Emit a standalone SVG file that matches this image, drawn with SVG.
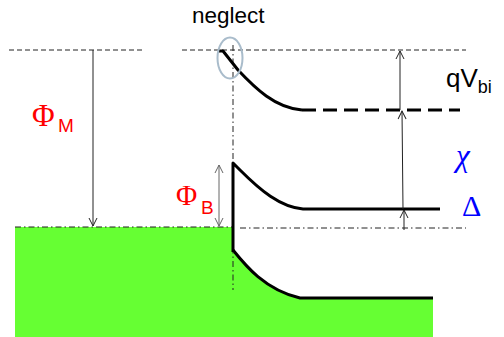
<svg xmlns="http://www.w3.org/2000/svg" width="504" height="337" viewBox="0 0 504 337">
<style>
.thin{fill:none;stroke:#222;stroke-width:1}
.dash{fill:none;stroke:#222;stroke-width:1;stroke-dasharray:5,3}
.dashdot{fill:none;stroke:#222;stroke-width:1;stroke-dasharray:6,3,1.5,3}
.band{fill:none;stroke:#000;stroke-width:3;stroke-linejoin:round}
.arr{fill:none;stroke:#222;stroke-width:1}
.green{fill:#66ff33;stroke:none}
.sans{font-family:"Liberation Sans",Arial,sans-serif}
.serif{font-family:"Liberation Serif","Times New Roman",serif}
</style>
<defs>
<marker id="ah" markerUnits="userSpaceOnUse" markerWidth="12" markerHeight="12" refX="9" refY="5" orient="auto">
<path d="M1,1 L9,5 L1,9" fill="none" stroke="#222" stroke-width="1"/>
</marker>
<marker id="ahg" markerUnits="userSpaceOnUse" markerWidth="12" markerHeight="12" refX="9" refY="5" orient="auto-start-reverse">
<path d="M1,1 L9,5 L1,9" fill="none" stroke="#666" stroke-width="1"/>
</marker>
</defs>
<g id="metal">
<rect class="green" x="15" y="227" width="218" height="110"/>
</g>
<g id="semiconductor-valence">
<path class="green" d="M233,250 C245,265 265,290 300,298 L433,298 L433,337 L233,337 Z"/>
<path class="band" d="M233,250 C245,265 265,290 300,298 L433,298"/>
</g>
<g id="reference-lines">
<line class="dash" x1="9" y1="50" x2="142" y2="50"/>
<line class="dash" x1="182" y1="50" x2="466" y2="50"/>
<line class="dashdot" x1="233" y1="45" x2="233" y2="290"/>
<line class="dashdot" x1="15" y1="227" x2="233" y2="227"/>
<line class="dashdot" x1="240" y1="228" x2="466" y2="228"/>
</g>
<g id="vacuum-level">
<path class="band" d="M218,51 L223,51 L238,70 C255,88 275,108 302,110"/>
<line class="band" x1="302" y1="110" x2="460" y2="110" stroke-dasharray="14,7"/>
</g>
<g id="conduction-band">
<path class="band" d="M233,252 L233,163 L240,170 C260,190 280,207 303,209 L440,209"/>
</g>
<g id="neglect">
<ellipse cx="230" cy="58" rx="12.5" ry="20.5" fill="none" stroke="#a9bccb" stroke-width="2"/>
<text class="sans" x="192" y="23" font-size="22.5" fill="#000">neglect</text>
</g>
<g id="connectors">
<line class="arr" x1="93" y1="50" x2="93" y2="226" marker-end="url(#ah)"/>
<line x1="219" y1="165" x2="219" y2="226" stroke="#666" stroke-width="1" marker-start="url(#ahg)" marker-end="url(#ahg)"/>
<line class="arr" x1="400" y1="110" x2="400" y2="51" marker-end="url(#ah)"/>
<line class="arr" x1="403" y1="209" x2="402" y2="111" marker-end="url(#ah)"/>
<line class="arr" x1="404" y1="230" x2="404" y2="210" marker-end="url(#ah)"/>
</g>
<g id="labels">
<text class="serif" x="32" y="126" font-size="31" fill="#ff0000">Φ</text>
<text class="sans" x="58" y="132" font-size="19" fill="#ff0000">M</text>
<text class="serif" x="176" y="205" font-size="29" fill="#ff0000">Φ</text>
<text class="sans" x="201" y="214" font-size="19" fill="#ff0000">B</text>
<text class="sans" x="446" y="87" font-size="26" fill="#000">qV<tspan font-size="18" dy="6">bi</tspan></text>
<text class="serif" x="456" y="166" font-size="31" font-style="italic" fill="#0000ff">χ</text>
<text class="serif" x="462" y="216" font-size="30" fill="#0000ff">Δ</text>
</g>
</svg>
